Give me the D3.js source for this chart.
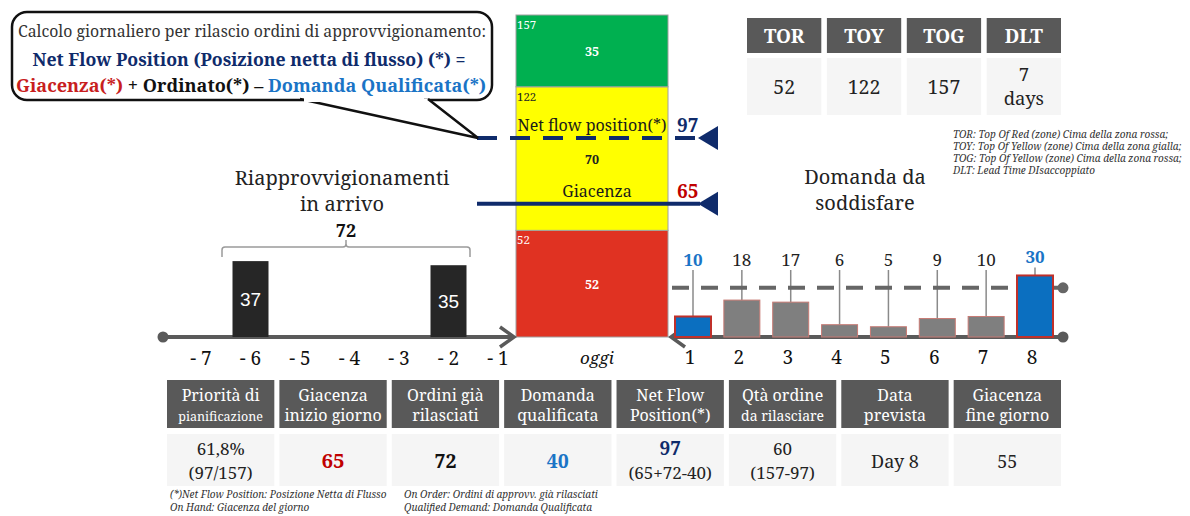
<!DOCTYPE html>
<html>
<head>
<meta charset="utf-8">
<script src="https://cdn.jsdelivr.net/npm/d3@7"></script>
<style>
  html, body { margin: 0; padding: 0; background: #fff; }
  svg { display: block; font-family: "Noto Serif", "Liberation Serif", "DejaVu Serif", serif; }
</style>
</head>
<body>
<svg id="chart" width="1190" height="516"></svg>
<script>
// ---- Buffer zones (units) ----
const zoneNames = ["red", "yellow", "green"];
const zoneSizes = [52, 70, 35];
const zoneTops = [52, 122, 157];
const zoneColors = ["#e03222", "#ffff00", "#00b050"];

// ---- Key positions ----
const netFlowPosition = 97;
const onHand = 65;
const onOrder = 72;
const qualifiedDemand = 40;
const spikeThreshold = 24;

// ---- Incoming supply (open orders) ----
const pastDays = [-7, -6, -5, -4, -3, -2, -1];
const pastDayLabels = ["- 7", "- 6", "- 5", "- 4", "- 3", "- 2", "- 1"];
const incomingDays = [-6, -2];
const incomingQty = [37, 35];

// ---- Demand to satisfy ----
const demandDays = [1, 2, 3, 4, 5, 6, 7, 8];
const demandQty = [10, 18, 17, 6, 5, 9, 10, 30];
const demandQualified = [true, false, false, false, false, false, false, true];

// ---- Buffer parameters table ----
const paramLabels = ["TOR", "TOY", "TOG", "DLT"];
const paramValues = [["52"], ["122"], ["157"], ["7", "days"]];
const paramNotes = [
  "TOR: Top Of Red (zone) Cima della zona rossa;",
  "TOY: Top Of Yellow (zone) Cima della zona gialla;",
  "TOG: Top Of Yellow (zone) Cima della zona rossa;",
  "DLT: Lead Time DIsaccoppiato"
];

// ---- Daily summary table ----
const summaryHeaders = [
  ["Priorità di", "pianificazione"], ["Giacenza", "inizio giorno"], ["Ordini già", "rilasciati"],
  ["Domanda", "qualificata"], ["Net Flow", "Position(*)"], ["Qtà ordine", "da rilasciare"],
  ["Data", "prevista"], ["Giacenza", "fine giorno"]
];
const summaryValues = [
  ["61,8%", "(97/157)"], ["65"], ["72"], ["40"], ["97", "(65+72-40)"], ["60", "(157-97)"], ["Day 8"], ["55"]
];
const summaryNotes = [
  ["(*)Net Flow Position: Posizione Netta di Flusso", "On Hand: Giacenza del giorno"],
  ["On Order: Ordini di approvv. già rilasciati", "Qualified Demand: Domanda Qualificata"]
];

// ---- Palette ----
const navy = "#0f2b6b";
const redText = "#c00000";
const blueText = "#1a74c6";
const axisGray = "#5a5a5a";
const headerGray = "#595959";
const cellGray = "#f5f5f5";

const svg = d3.select("#chart");

// Shared unit scale (vertical)
const y = d3.scaleLinear().domain([0, 157]).range([337, 15]);
const baseY = y(0);

// ================= Buffer column =================
const colX0 = 516, colX1 = 668, colMid = (colX0 + colX1) / 2;
const zones = zoneNames.map((n, i) => ({ name: n, size: zoneSizes[i], top: zoneTops[i], bottom: zoneTops[i] - zoneSizes[i], color: zoneColors[i] }));

svg.append("g").selectAll("rect").data(zones).join("rect")
  .attr("x", colX0).attr("width", colX1 - colX0)
  .attr("y", d => y(d.top)).attr("height", d => y(d.bottom) - y(d.top))
  .attr("fill", d => d.color).attr("stroke", "#a0a0a0").attr("stroke-width", 1);

// zone tops in the corner
svg.append("g").selectAll("text").data(zones).join("text")
  .attr("x", colX0 + 1).attr("y", d => y(d.top) + 14)
  .attr("font-size", 11.5)
  .attr("fill", d => d.name === "yellow" ? "#222" : "#fff")
  .text(d => d.top);

// zone sizes in the middle
svg.append("g").selectAll("text").data(zones).join("text")
  .attr("x", colMid).attr("y", d => (y(d.top) + y(d.bottom)) / 2 + 5)
  .attr("text-anchor", "middle").attr("font-size", 12.5).attr("font-weight", "bold")
  .attr("fill", d => d.name === "yellow" ? "#222" : "#fff")
  .text(d => d.size);

// Net flow position (dashed) and on-hand (solid) markers
function marker(value, dashed, labelColor, caption, captionX) {
  const yy = y(value);
  svg.append("line").attr("x1", 477).attr("x2", 700).attr("y1", yy).attr("y2", yy)
    .attr("stroke", navy).attr("stroke-width", 4)
    .attr("stroke-dasharray", dashed ? "20,13" : null);
  svg.append("path")
    .attr("d", `M698,${yy} L718,${yy - 12} L718,${yy + 12} Z`)
    .attr("fill", navy);
  svg.append("text").attr("x", 677).attr("y", yy - 6)
    .attr("font-size", 19).attr("font-weight", "bold").attr("fill", labelColor)
    .text(value);
  svg.append("text").attr("x", captionX).attr("y", yy - 7)
    .attr("text-anchor", "middle").attr("font-size", 16).attr("fill", "#1a1a1a")
    .text(caption);
}
marker(netFlowPosition, true, navy, "Net flow position(*)", 592);
marker(onHand, false, redText, "Giacenza", 597);

// ================= Speech bubble =================
const tipX = 478, tipY = y(netFlowPosition);
svg.append("rect").attr("x", 12).attr("y", 12).attr("width", 480).attr("height", 88)
  .attr("rx", 15).attr("fill", "#fff").attr("stroke", "#111").attr("stroke-width", 2.5);
svg.append("path").attr("d", `M300,99 L${tipX},${tipY} L428,99`)
  .attr("fill", "#fff").attr("stroke", "#111").attr("stroke-width", 2.5);
svg.append("line").attr("x1", 304).attr("x2", 424).attr("y1", 100).attr("y2", 100)
  .attr("stroke", "#fff").attr("stroke-width", 4);

svg.append("text").attr("x", 252).attr("y", 37).attr("text-anchor", "middle")
  .attr("font-size", 16.5).attr("fill", "#333")
  .attr("textLength", 468).attr("lengthAdjust", "spacingAndGlyphs")
  .text("Calcolo giornaliero per rilascio ordini di approvvigionamento:");
svg.append("text").attr("x", 249).attr("y", 66).attr("text-anchor", "middle")
  .attr("font-size", 17.5).attr("font-weight", "bold").attr("fill", navy)
  .attr("textLength", 433).attr("lengthAdjust", "spacingAndGlyphs")
  .text("Net Flow Position (Posizione netta di flusso) (*) =");
const formula = svg.append("text").attr("x", 16).attr("y", 92)
  .attr("font-size", 17.5).attr("font-weight", "bold")
  .attr("textLength", 470).attr("lengthAdjust", "spacingAndGlyphs");
formula.append("tspan").attr("fill", "#c81e1e").text("Giacenza(*)");
formula.append("tspan").attr("fill", "#111").text(" + Ordinato(*) – ");
formula.append("tspan").attr("fill", blueText).text("Domanda Qualificata(*)");

// ================= Incoming supply =================
const xPast = d3.scaleLinear().domain([-7, -1]).range([201, 498]);
const barW = 36;

// axis with dot and arrow
svg.append("line").attr("x1", 163).attr("x2", 513).attr("y1", baseY).attr("y2", baseY)
  .attr("stroke", axisGray).attr("stroke-width", 4);
svg.append("circle").attr("cx", 163).attr("cy", baseY).attr("r", 5.5).attr("fill", axisGray);
svg.append("path").attr("d", `M500,${baseY - 10} L514,${baseY} L500,${baseY + 10}`)
  .attr("fill", "none").attr("stroke", axisGray).attr("stroke-width", 3.5);

svg.append("g").selectAll("rect").data(incomingDays).join("rect")
  .attr("x", d => xPast(d) - barW / 2).attr("width", barW)
  .attr("y", (d, i) => y(incomingQty[i])).attr("height", (d, i) => baseY - y(incomingQty[i]))
  .attr("fill", "#262626");
svg.append("g").selectAll("text").data(incomingDays).join("text")
  .attr("x", d => xPast(d)).attr("y", (d, i) => (y(incomingQty[i]) + baseY) / 2 + 7)
  .attr("text-anchor", "middle").attr("font-family", "Liberation Sans, Arial, sans-serif")
  .attr("font-size", 19).attr("fill", "#fff")
  .text((d, i) => incomingQty[i]);

svg.append("g").selectAll("text").data(pastDays).join("text")
  .attr("x", d => xPast(d)).attr("y", 365)
  .attr("text-anchor", "middle").attr("font-size", 19).attr("fill", "#111")
  .text((d, i) => pastDayLabels[i]);

// bracket summing the incoming orders
const bx0 = 222, bx1 = 470, by = 247, bMid = (bx0 + bx1) / 2;
svg.append("path")
  .attr("d", `M${bx0},257 L${bx0},${by + 3} Q${bx0},${by} ${bx0 + 3},${by} L${bMid - 3},${by} Q${bMid},${by} ${bMid},${by - 3} L${bMid},240 L${bMid},${by - 3} Q${bMid},${by} ${bMid + 3},${by} L${bx1 - 3},${by} Q${bx1},${by} ${bx1},${by + 3} L${bx1},257`)
  .attr("fill", "none").attr("stroke", "#9a9a9a").attr("stroke-width", 1.5);
svg.append("text").attr("x", bMid).attr("y", 237).attr("text-anchor", "middle")
  .attr("font-size", 18).attr("font-weight", "bold").attr("fill", "#111")
  .text(d3.sum(incomingQty));

svg.append("text").attr("x", 342).attr("y", 185).attr("text-anchor", "middle")
  .attr("font-size", 20).attr("fill", "#222").text("Riapprovvigionamenti");
svg.append("text").attr("x", 342).attr("y", 211).attr("text-anchor", "middle")
  .attr("font-size", 20).attr("fill", "#222").text("in arrivo");

svg.append("text").attr("x", 597).attr("y", 364).attr("text-anchor", "middle")
  .attr("font-size", 17).attr("font-style", "italic").attr("fill", "#111").text("oggi");

// ================= Demand =================
const xFut = d3.scaleLinear().domain([1, 8]).range([690, 1032]);

svg.append("line").attr("x1", 672).attr("x2", 1063).attr("y1", baseY).attr("y2", baseY)
  .attr("stroke", axisGray).attr("stroke-width", 4);
svg.append("circle").attr("cx", 1063).attr("cy", baseY).attr("r", 5.5).attr("fill", axisGray);
svg.append("path").attr("d", `M685,${baseY - 10} L671,${baseY} L685,${baseY + 10}`)
  .attr("fill", "none").attr("stroke", axisGray).attr("stroke-width", 3.5);

const demand = demandDays.map((d, i) => ({ day: d, qty: demandQty[i], q: demandQualified[i] }));
const labelY = d => Math.min(266, y(d.qty) - 12);

// stems
svg.append("g").selectAll("line").data(demand).join("line")
  .attr("x1", d => xFut(d.day) + 3).attr("x2", d => xFut(d.day) + 3)
  .attr("y1", d => labelY(d) + 4).attr("y2", d => y(d.qty))
  .attr("stroke", "#8a8a8a").attr("stroke-width", 1.5);

// threshold line
const thrY = y(spikeThreshold);
svg.append("line").attr("x1", 672).attr("x2", 1063).attr("y1", thrY).attr("y2", thrY)
  .attr("stroke", "#666").attr("stroke-width", 4).attr("stroke-dasharray", "17,12");
svg.append("circle").attr("cx", 1063).attr("cy", thrY).attr("r", 5.5).attr("fill", "#666");

svg.append("g").selectAll("rect").data(demand).join("rect")
  .attr("x", d => xFut(d.day) + 3 - barW / 2).attr("width", barW)
  .attr("y", d => y(d.qty)).attr("height", d => baseY - y(d.qty))
  .attr("fill", d => d.q ? "#0b6fc0" : "#7f7f7f")
  .attr("stroke", d => d.q ? "#c0302a" : "#c77a74")
  .attr("stroke-width", d => d.q ? 2 : 1);

svg.append("g").selectAll("text").data(demand).join("text")
  .attr("x", d => xFut(d.day) + 3).attr("y", d => labelY(d))
  .attr("text-anchor", "middle").attr("font-size", 17)
  .attr("font-weight", d => d.q ? "bold" : "normal")
  .attr("fill", d => d.q ? blueText : "#222")
  .text(d => d.qty);

svg.append("g").selectAll("text").data(demandDays).join("text")
  .attr("x", d => xFut(d)).attr("y", 364)
  .attr("text-anchor", "middle").attr("font-size", 19).attr("fill", "#111")
  .text(d => d);

svg.append("text").attr("x", 865).attr("y", 184).attr("text-anchor", "middle")
  .attr("font-size", 20).attr("fill", "#222").text("Domanda da");
svg.append("text").attr("x", 865).attr("y", 210).attr("text-anchor", "middle")
  .attr("font-size", 20).attr("fill", "#222").text("soddisfare");

// ================= Buffer parameters table =================
const pX = d3.scaleBand().domain(paramLabels).range([747, 1061]).paddingInner(0.07).paddingOuter(0);
const pG = svg.append("g");
pG.selectAll("rect.h").data(paramLabels).join("rect").attr("class", "h")
  .attr("x", d => pX(d)).attr("width", pX.bandwidth()).attr("y", 18).attr("height", 35)
  .attr("fill", headerGray);
pG.selectAll("rect.v").data(paramLabels).join("rect").attr("class", "v")
  .attr("x", d => pX(d)).attr("width", pX.bandwidth()).attr("y", 58).attr("height", 57)
  .attr("fill", cellGray);
pG.selectAll("text.h").data(paramLabels).join("text").attr("class", "h")
  .attr("x", d => pX(d) + pX.bandwidth() / 2).attr("y", 43)
  .attr("text-anchor", "middle").attr("font-size", 19).attr("font-weight", "bold").attr("fill", "#fff")
  .text(d => d);
paramLabels.forEach((lab, i) => {
  const lines = paramValues[i];
  const cx = pX(lab) + pX.bandwidth() / 2;
  lines.forEach((t, j) => {
    const yy = lines.length === 1 ? 94 : 81 + j * 24;
    pG.append("text").attr("x", cx).attr("y", yy).attr("text-anchor", "middle")
      .attr("font-size", lines.length === 1 ? 19.5 : 18.5).attr("fill", "#222").text(t);
  });
});
svg.append("g").selectAll("text").data(paramNotes).join("text")
  .attr("x", 953).attr("y", (d, i) => 138 + i * 12)
  .attr("font-size", 10).attr("font-style", "italic").attr("fill", "#333")
  .text(d => d);

// ================= Daily summary table =================
const sX = d3.scaleBand().domain(d3.range(summaryHeaders.length)).range([167, 1061]).paddingInner(0.045).paddingOuter(0);
const sG = svg.append("g");
sG.selectAll("rect.h").data(summaryHeaders).join("rect").attr("class", "h")
  .attr("x", (d, i) => sX(i)).attr("width", sX.bandwidth()).attr("y", 380).attr("height", 48)
  .attr("fill", headerGray);
sG.selectAll("rect.v").data(summaryValues).join("rect").attr("class", "v")
  .attr("x", (d, i) => sX(i)).attr("width", sX.bandwidth()).attr("y", 434).attr("height", 52)
  .attr("fill", cellGray);

const smallSecond = { 0: 12.5, 5: 14 };
summaryHeaders.forEach((lines, i) => {
  const cx = sX(i) + sX.bandwidth() / 2;
  lines.forEach((t, j) => {
    sG.append("text").attr("x", cx).attr("y", 401 + j * 20).attr("text-anchor", "middle")
      .attr("font-size", j === 1 && smallSecond[i] ? smallSecond[i] : 16).attr("fill", "#fff").text(t);
  });
});

const valueStyle = {
  1: { color: redText, bold: true, size: 20.5 },
  2: { color: "#111", bold: true, size: 19.5 },
  3: { color: blueText, bold: true, size: 19.5 },
  4: { color: navy, bold: true, size: 19 }
};
summaryValues.forEach((lines, i) => {
  const cx = sX(i) + sX.bandwidth() / 2;
  lines.forEach((t, j) => {
    const st = (j === 0 && valueStyle[i]) || { color: "#222", bold: false, size: lines.length === 1 ? 18 : 17 };
    const yy = lines.length === 1 ? 468 : 455 + j * 24;
    sG.append("text").attr("x", cx).attr("y", yy).attr("text-anchor", "middle")
      .attr("font-size", st.size).attr("font-weight", st.bold ? "bold" : "normal")
      .attr("fill", st.color).text(t);
  });
});

const noteX = [170, 404];
summaryNotes.forEach((lines, k) => {
  lines.forEach((t, j) => {
    svg.append("text").attr("x", noteX[k]).attr("y", 498 + j * 13)
      .attr("font-size", 10).attr("font-style", "italic").attr("fill", "#333").text(t);
  });
});
</script>
</body>
</html>
